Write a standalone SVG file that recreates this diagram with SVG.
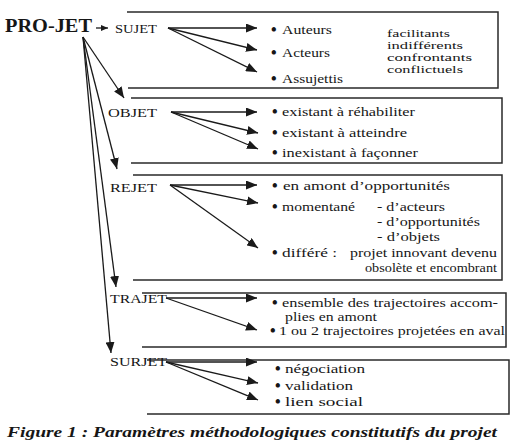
<svg xmlns="http://www.w3.org/2000/svg" width="517" height="444" viewBox="0 0 517 444">
<defs>
<marker id="ah" markerUnits="userSpaceOnUse" markerWidth="11" markerHeight="9" refX="11" refY="4.5" orient="auto">
<path d="M0,0 L11,4.5 L0,9 z" fill="#1a1a1a"/>
</marker>
<marker id="ahs" markerUnits="userSpaceOnUse" markerWidth="7" markerHeight="6" refX="7" refY="3" orient="auto">
<path d="M0,0 L7,3 L0,6 z" fill="#1a1a1a"/>
</marker>
</defs>
<style>
text{font-family:"Liberation Serif","DejaVu Serif",serif;fill:#161616;}
.t{font-size:12.5px;}
.s{font-size:11px;}
.lab{font-size:13px;}
.b{font-size:16px;font-weight:bold;}
.box{fill:none;stroke:#2a2a2a;stroke-width:1.5;}
.c{fill:none;stroke:#1a1a1a;stroke-width:1.3;marker-end:url(#ah);}
</style>
<rect width="517" height="444" fill="#ffffff"/>

<g id="projet">
<text x="5" y="32" font-size="18" font-weight="bold" textLength="87" lengthAdjust="spacingAndGlyphs">PRO-JET</text>
</g>

<g id="sujet">
<path class="box" d="M127,12 H498 V88 H128"/>
<text class="lab" x="115" y="33" textLength="42" lengthAdjust="spacingAndGlyphs">SUJET</text>
<text class="b" x="271" y="35">•</text><text class="t" x="282" y="34" textLength="50" lengthAdjust="spacingAndGlyphs">Auteurs</text>
<text class="b" x="271" y="58">•</text><text class="t" x="282" y="57" textLength="48" lengthAdjust="spacingAndGlyphs">Acteurs</text>
<text class="b" x="271" y="84">•</text><text class="t" x="282" y="83" textLength="61" lengthAdjust="spacingAndGlyphs">Assujettis</text>
<text class="s" x="387" y="37" textLength="63" lengthAdjust="spacingAndGlyphs">facilitants</text>
<text class="s" x="387" y="49" textLength="76" lengthAdjust="spacingAndGlyphs">indifférents</text>
<text class="s" x="387" y="61" textLength="85" lengthAdjust="spacingAndGlyphs">confrontants</text>
<text class="s" x="387" y="73" textLength="76" lengthAdjust="spacingAndGlyphs">conflictuels</text>
</g>

<g id="objet">
<path class="box" d="M131,98 H502 V163 H131"/>
<text class="lab" x="108" y="117" textLength="49" lengthAdjust="spacingAndGlyphs">OBJET</text>
<text class="b" x="272" y="117">•</text><text class="t" x="282" y="116" textLength="133" lengthAdjust="spacingAndGlyphs">existant à réhabiliter</text>
<text class="b" x="272" y="138">•</text><text class="t" x="282" y="137" textLength="125" lengthAdjust="spacingAndGlyphs">existant à atteindre</text>
<text class="b" x="272" y="158">•</text><text class="t" x="282" y="157" textLength="136" lengthAdjust="spacingAndGlyphs">inexistant à façonner</text>
</g>

<g id="rejet">
<path class="box" d="M133,175 H502 V280 H133"/>
<text class="lab" x="110" y="192" textLength="47" lengthAdjust="spacingAndGlyphs">REJET</text>
<text class="b" x="272" y="191">•</text><text class="t" x="283" y="190" textLength="167" lengthAdjust="spacingAndGlyphs">en amont d’opportunités</text>
<text class="b" x="272" y="212">•</text><text class="t" x="282" y="211" textLength="73" lengthAdjust="spacingAndGlyphs">momentané</text>
<text class="t" x="377" y="211" textLength="68" lengthAdjust="spacingAndGlyphs">- d’acteurs</text>
<text class="t" x="377" y="226" textLength="103" lengthAdjust="spacingAndGlyphs">- d’opportunités</text>
<text class="t" x="377" y="241" textLength="63" lengthAdjust="spacingAndGlyphs">- d’objets</text>
<text class="b" x="272" y="258">•</text><text class="t" x="282" y="257" textLength="55" lengthAdjust="spacingAndGlyphs">différé :</text>
<text class="t" x="350" y="257" textLength="147" lengthAdjust="spacingAndGlyphs">projet innovant devenu</text>
<text class="t" x="365" y="272" textLength="132" lengthAdjust="spacingAndGlyphs">obsolète et encombrant</text>
</g>

<g id="trajet">
<path class="box" d="M142,293 H506 V347 H142"/>
<text class="lab" x="110" y="303" textLength="57" lengthAdjust="spacingAndGlyphs">TRAJET</text>
<text class="b" x="272" y="308">•</text><text class="t" x="282" y="307" textLength="216" lengthAdjust="spacingAndGlyphs">ensemble des trajectoires accom-</text>
<text class="t" x="285" y="321" textLength="92" lengthAdjust="spacingAndGlyphs">plies en amont</text>
<text class="b" x="270" y="336">•</text><text class="t" x="279" y="335" textLength="226" lengthAdjust="spacingAndGlyphs">1 ou 2 trajectoires projetées en aval</text>
</g>

<g id="surjet">
<path class="box" d="M147,360 H509 V414 H147"/>
<text class="lab" x="110" y="366" textLength="57" lengthAdjust="spacingAndGlyphs">SURJET</text>
<text class="b" x="275" y="374">•</text><text class="t" x="285" y="373" textLength="80" lengthAdjust="spacingAndGlyphs">négociation</text>
<text class="b" x="275" y="391">•</text><text class="t" x="285" y="390" textLength="68" lengthAdjust="spacingAndGlyphs">validation</text>
<text class="b" x="275" y="407">•</text><text class="t" x="285" y="406" textLength="78" lengthAdjust="spacingAndGlyphs">lien social</text>
</g>

<g id="connectors">
<line x1="96" y1="28" x2="108" y2="28" stroke="#1a1a1a" stroke-width="1.3" marker-end="url(#ahs)"/>
<line class="c" x1="83" y1="37" x2="124" y2="98"/>
<line class="c" x1="83" y1="37" x2="117" y2="169"/>
<line class="c" x1="83" y1="37" x2="116" y2="287"/>
<line class="c" x1="83" y1="37" x2="111" y2="353"/>

<line class="c" x1="168" y1="28" x2="257" y2="28"/>
<line class="c" x1="168" y1="28" x2="257" y2="50"/>
<line class="c" x1="168" y1="28" x2="257" y2="72"/>

<line class="c" x1="171" y1="112" x2="257" y2="112"/>
<line class="c" x1="171" y1="112" x2="258" y2="133"/>
<line class="c" x1="171" y1="112" x2="258" y2="149"/>

<line class="c" x1="170" y1="185" x2="257" y2="185"/>
<line class="c" x1="170" y1="185" x2="258" y2="203"/>
<line class="c" x1="170" y1="185" x2="258" y2="248"/>

<line class="c" x1="166" y1="298" x2="257" y2="298"/>
<line class="c" x1="166" y1="298" x2="257" y2="330"/>

<line class="c" x1="166" y1="362" x2="257" y2="362"/>
<line class="c" x1="166" y1="362" x2="258" y2="383"/>
<line class="c" x1="166" y1="362" x2="258" y2="400"/>
</g>

<text x="7" y="437" font-size="14.5" font-weight="bold" font-style="italic" textLength="490" lengthAdjust="spacingAndGlyphs">Figure 1 : Paramètres méthodologiques constitutifs du projet</text>
</svg>
